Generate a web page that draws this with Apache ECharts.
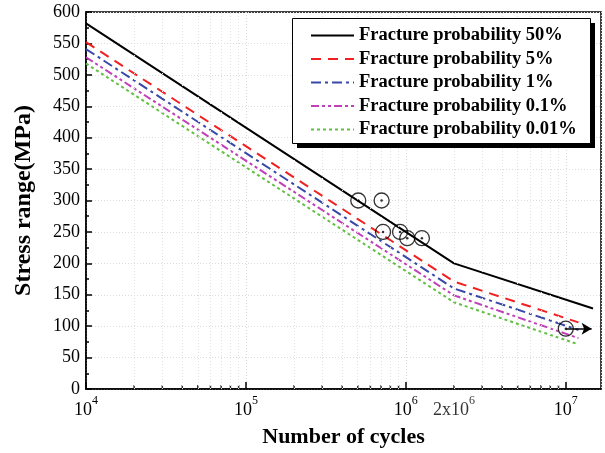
<!DOCTYPE html>
<html>
<head>
<meta charset="utf-8">
<script src="https://cdn.jsdelivr.net/npm/echarts@6/dist/echarts.min.js"></script>
<style>html,body{margin:0;padding:0;background:#fff}#c{width:605px;height:453px}</style>
</head>
<body>
<div id="c"></div>
<script>
// ---- data ----
var seriesNames = ['Fracture probability 50%', 'Fracture probability 5%', 'Fracture probability 1%', 'Fracture probability 0.1%', 'Fracture probability 0.01%'];
var p50   = [[1e4, 582], [2e6, 200], [1.48e7, 128]];
var p5    = [[1e4, 552], [2e6, 171], [1.2e7, 106]];
var p1    = [[1e4, 541], [2e6, 160], [1.2e7, 94]];
var p01   = [[1e4, 528], [2e6, 149], [1.2e7, 81]];
var p001  = [[1e4, 518], [2e6, 138], [1.2e7, 71]];
var testPoints = [[5.04e5, 300], [7.05e5, 300], [7.2e5, 250], [9.2e5, 250], [1.02e6, 240], [1.26e6, 240]];
var runout = [[1e7, 96]];
var runoutArrowEnd = 1.45e7;
var xMinorTicks = [2e4,3e4,4e4,5e4,6e4,7e4,8e4,9e4, 2e5,3e5,4e5,5e5,6e5,7e5,8e5,9e5, 2e6,3e6,4e6,5e6,6e6,7e6,8e6,9e6];
var xExtraLabel = [[2e6, 0, '2x10^6']];
var yTicks = {min: 0, max: 600, interval: 50};
var xRange = {min: 1e4, max: 1.66e7};

var serif = 'Liberation Serif';
var chart = echarts.init(document.getElementById('c'));

function lineSeries(name, data, color, type, width) {
  return {
    name: name, type: 'line', data: data, showSymbol: false, symbol: 'none',
    lineStyle: {color: color, width: width, type: type}, itemStyle: {color: color},
    z: 3, silent: true, animation: false
  };
}

var supRich = {
  b: {fontFamily: serif, fontSize: 18, color: '#000', padding: [6, 0, 0, 0]},
  s: {fontFamily: serif, fontSize: 12, color: '#000', verticalAlign: 'top', padding: [0, 0, 8, 0]}
};

chart.setOption({
  animation: false,
  backgroundColor: '#fff',
  grid: {left: 86, top: 12, right: 4, bottom: 64, show: true, borderColor: '#000', borderWidth: 1.5, backgroundColor: 'transparent'},
  graphic: [
    {type: 'rect', z: 20, silent: true, shape: {x: 297, y: 23, width: 298, height: 125}, style: {fill: '#000'}},
    {type: 'rect', z: 21, silent: true, shape: {x: 292.5, y: 18.5, width: 298, height: 125}, style: {fill: '#fff', stroke: '#000', lineWidth: 1}}
  ],
  xAxis: {
    type: 'log', logBase: 10, min: xRange.min, max: xRange.max,
    name: 'Number of cycles', nameLocation: 'middle', nameGap: 37,
    nameTextStyle: {fontFamily: serif, fontSize: 22, fontWeight: 'bold', color: '#000'},
    axisLine: {show: true, lineStyle: {color: '#000', width: 1.5}},
    axisTick: {show: true, inside: true, length: 7, lineStyle: {color: '#000', width: 1.5}},
    minorTick: {show: false},
    axisLabel: {
      show: true, margin: 6, showMaxLabel: false,
      formatter: function (v) {
        var e = Math.log(v) / Math.LN10;
        var r = Math.round(e);
        if (Math.abs(e - r) > 0.01) return '';
        return '{b|10}{s|' + r + '}';
      },
      rich: supRich
    },
    splitLine: {show: true, lineStyle: {color: '#d8d8d8', type: [1, 2], width: 1}}
  },
  yAxis: {
    type: 'value', min: yTicks.min, max: yTicks.max, interval: yTicks.interval,
    name: 'Stress range(MPa)', nameLocation: 'middle', nameGap: 50, nameRotate: 90,
    nameTextStyle: {fontFamily: serif, fontSize: 24, fontWeight: 'bold', color: '#000'},
    axisLine: {show: true, lineStyle: {color: '#000', width: 1.5}},
    axisTick: {show: true, inside: true, length: 6, lineStyle: {color: '#000', width: 1.5}},
    minorTick: {show: true, splitNumber: 2, length: 3, lineStyle: {color: '#000', width: 1.5}},
    axisLabel: {fontFamily: serif, fontSize: 18, color: '#000', margin: 6},
    splitLine: {show: true, lineStyle: {color: '#dcdcdc', type: [1, 2], width: 1}}
  },
  legend: {
    orient: 'vertical', left: 292, top: 18, z: 30,
    padding: [8, 14, 7, 18], itemGap: 4.5, itemWidth: 43, itemHeight: 15,
    backgroundColor: 'transparent', borderWidth: 0,
    itemStyle: {opacity: 0},
    textStyle: {fontFamily: serif, fontSize: 18.5, fontWeight: 'bold', color: '#000'},
    data: seriesNames
  },
  series: [
    lineSeries(seriesNames[0], p50, '#000000', 'solid', 2),
    lineSeries(seriesNames[1], p5, '#f02020', [10, 7], 2),
    lineSeries(seriesNames[2], p1, '#3848a8', [10, 4, 3, 4], 2),
    lineSeries(seriesNames[3], p01, '#c040b8', [8, 3, 3, 3, 3, 3], 2),
    lineSeries(seriesNames[4], p001, '#60c040', [3, 3], 2),
    {
      name: 'minorTicks', type: 'scatter', silent: true, z: 2,
      data: xMinorTicks.map(function (v) { return [v, 0]; }),
      symbol: 'rect', symbolSize: [1.5, 4], symbolOffset: [0, -2],
      itemStyle: {color: '#000'},
      markLine: {
        silent: true, symbol: 'none', label: {show: false},
        lineStyle: {color: '#e0e0e0', type: [1, 2], width: 1},
        data: xMinorTicks.map(function (v) { return {xAxis: v}; })
      }
    },
    {
      name: 'extraLabel', type: 'scatter', silent: true, symbolSize: 0,
      data: xExtraLabel.map(function (d) { return [d[0], d[1]]; }),
      label: {
        show: true, position: 'bottom', distance: 6,
        formatter: '{b|2x10}{s|6}', rich: supRich
      }
    },
    {
      name: 'tests', type: 'scatter', silent: true, z: 5,
      data: testPoints.concat(runout), symbol: 'circle', symbolSize: 15,
      itemStyle: {color: 'rgba(255,255,255,0)', borderColor: '#000', borderWidth: 1.3}
    },
    {
      name: 'testsDot', type: 'scatter', silent: true, z: 6,
      data: testPoints.concat(runout), symbol: 'circle', symbolSize: 2.5,
      itemStyle: {color: '#000'}
    },
    {
      name: 'runoutArrow', type: 'scatter', silent: true, symbolSize: 0, data: runout,
      markLine: {
        silent: true, symbol: ['none', 'arrow'], symbolSize: [9, 10], label: {show: false},
        lineStyle: {color: '#000', type: 'solid', width: 1.5},
        data: [[{coord: runout[0]}, {coord: [runoutArrowEnd, runout[0][1]]}]]
      }
    }
  ]
});
</script>
</body>
</html>
